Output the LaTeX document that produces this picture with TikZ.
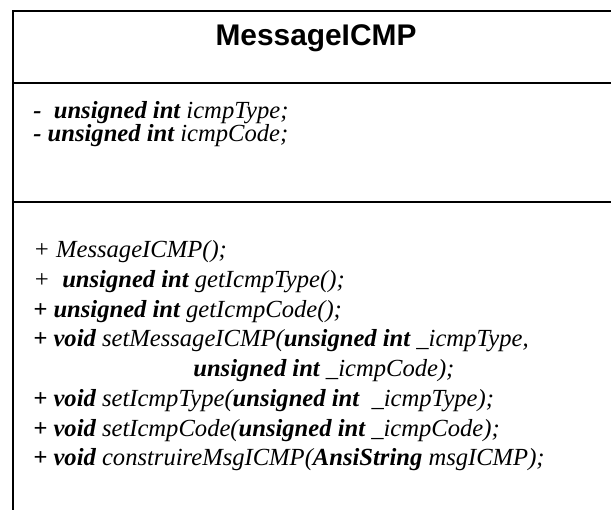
\documentclass[tikz,border=0pt]{standalone}
\usepackage{fontspec}
\setmainfont{Liberation Serif}
\newfontfamily\titlefont{Liberation Sans}
\usepackage{tikz}

\newcommand{\kw}[1]{\textbf{#1}}

\tikzset{
  member/.style={anchor=west, inner sep=0pt, font=\fontsize{14}{16}\selectfont\itshape},
  classname/.style={inner sep=0pt, font=\fontsize{17}{20}\selectfont\titlefont\bfseries},
  frame/.style={line width=1.3pt}
}

\begin{document}
\begin{tikzpicture}
\useasboundingbox (0,0) rectangle (12.22,10.2);
% class box, open to the right and below
\draw[frame] (12.22,9.98) -- (0.26,9.98) -- (0.26,0);
\draw[frame] (0.26,8.54) -- (12.22,8.54);
\draw[frame] (0.26,6.16) -- (12.22,6.16);
\node[classname] (title) at (6.32,9.44) {MessageICMP};
% attributes
\node[member] (attr1) at (0.66,7.95) {\kw{-}\ \ \kw{unsigned int} icmpType;};
\node[member] (attr2) at (0.66,7.49) {\kw{-} \kw{unsigned int} icmpCode;};
% operations
\node[member] (op1) at (0.66,5.16) {+ MessageICMP();};
\node[member] (op2) at (0.66,4.566) {+\ \ \kw{unsigned int} getIcmpType();};
\node[member] (op3) at (0.66,3.972) {\kw{+} \kw{unsigned int} getIcmpCode();};
\node[member] (op4) at (0.66,3.378) {\kw{+} \kw{void} setMessageICMP(\kw{unsigned int} \_icmpType,};
\node[member] (op4b) at (3.86,2.784) {\kw{unsigned int} \_icmpCode);};
\node[member] (op5) at (0.66,2.19) {\kw{+} \kw{void} setIcmpType(\kw{unsigned int}\ \ \_icmpType);};
\node[member] (op6) at (0.66,1.596) {\kw{+} \kw{void} setIcmpCode(\kw{unsigned int} \_icmpCode);};
\node[member] (op7) at (0.66,1.002) {\kw{+} \kw{void} construireMsgICMP(\kw{AnsiString} msgICMP);};
\end{tikzpicture}
\end{document}
